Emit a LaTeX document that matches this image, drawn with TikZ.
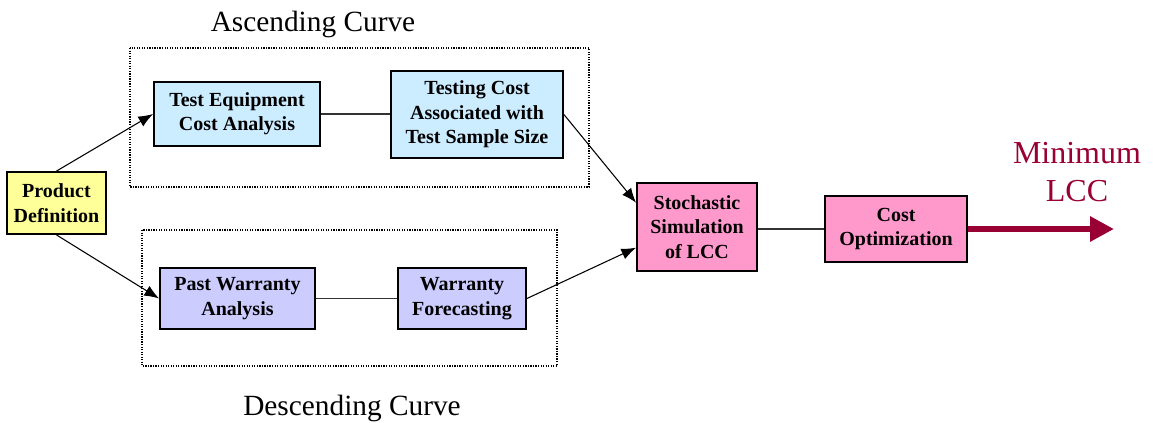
\documentclass[tikz,border=0pt]{standalone}
\usepackage{fontspec}
\setmainfont{Liberation Serif}
\usetikzlibrary{arrows.meta,calc}
\definecolor{boxblue}{HTML}{CCECFF}
\definecolor{boxlav}{HTML}{CCCCFF}
\definecolor{boxpink}{HTML}{FF99CC}
\definecolor{boxyellow}{HTML}{FFFF99}
\definecolor{maroon}{HTML}{990033}
\tikzset{
  procbox/.style={draw=black, line width=1.4pt, align=center, inner sep=0pt,
    font=\fontsize{15}{18.3}\selectfont\bfseries},
  groupbox/.style={draw=black, densely dotted, line width=0.9pt},
  biglabel/.style={font=\fontsize{22}{26}\selectfont, inner sep=0pt},
  link/.style={draw=black!80, line width=0.8pt},
  feed/.style={draw=black, line width=0.8pt, -{Latex[length=11pt,width=8.5pt]}},
}
\begin{document}
\begin{tikzpicture}[x=0.75pt,y=-0.75pt]
\useasboundingbox (0,0) rectangle (1153,422);

% group frames
\draw[groupbox] (130,48) rectangle (589,187);
\draw[groupbox] (142,230) rectangle (557,366);
\node[biglabel] (asc) at (313,24) {Ascending Curve};
\node[biglabel] (desc) at (352,408) {Descending Curve};

% process boxes
\node[procbox, fill=boxyellow, minimum width=99*0.75pt, minimum height=62*0.75pt] (pd) at (56.5,203) {Product\\Definition};
\node[procbox, fill=boxblue, minimum width=166*0.75pt, minimum height=64*0.75pt] (tea) at (237,114) {Test Equipment\\Cost Analysis};
\node[procbox, fill=boxblue, minimum width=172*0.75pt, minimum height=87*0.75pt] (tcs) at (477,114.5) {Testing Cost\\Associated with\\Test Sample Size};
\node[procbox, fill=boxlav, minimum width=155*0.75pt, minimum height=61*0.75pt] (pwa) at (237.5,298.5) {Past Warranty\\Analysis};
\node[procbox, fill=boxlav, minimum width=128*0.75pt, minimum height=61*0.75pt] (wf) at (462,298.5) {Warranty\\Forecasting};
\node[procbox, fill=boxpink, minimum width=120*0.75pt, minimum height=88*0.75pt] (ssl) at (697,227) {Stochastic\\Simulation\\of LCC};
\node[procbox, fill=boxpink, minimum width=142*0.75pt, minimum height=66*0.75pt] (co) at (896,229) {Cost\\Optimization};

% connectors
\draw[feed] (pd.north) -- (tea.west);
\draw[feed] (pd.south) -- (pwa.west);
\draw[link] (tea.east) -- (tea.east -| tcs.west);
\draw[link] (pwa.east) -- (pwa.east -| wf.west);
\draw[feed] (tcs.east) -- ($(ssl.north west)!0.23!(ssl.south west)$);
\draw[feed] (wf.east) -- ($(ssl.north west)!0.73!(ssl.south west)$);
\draw[link] (ssl.east |- co.west) -- (co.west);

% result
\coordinate (goal) at (1114,229);
\draw[maroon, line width=4.5pt, -{Triangle[length=18pt,width=18pt]}] (co.east) -- (goal);
\node[biglabel, text=maroon, align=center, font=\fontsize{24}{29}\selectfont] (lcc) at (1077,172) {Minimum\\LCC};
\end{tikzpicture}
\end{document}
